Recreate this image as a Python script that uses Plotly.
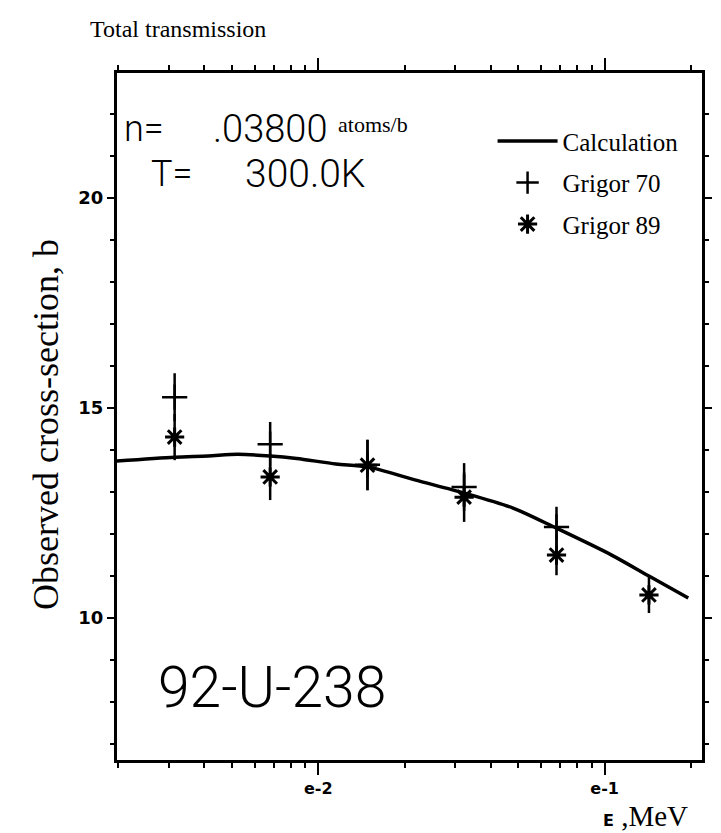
import plotly.graph_objects as go

# Calculated observed cross-section for 92-U-238 total transmission
calc_energy = [0.00198, 0.00315, 0.00412, 0.00522, 0.00679, 0.0084, 0.01153,
               0.01486, 0.02173, 0.03228, 0.04786, 0.06787, 0.1058, 0.1428, 0.1959]
calc_sigma = [13.74, 13.83, 13.86, 13.90, 13.86, 13.80, 13.67,
              13.60, 13.29, 12.98, 12.62, 12.14, 11.50, 11.00, 10.48]

# Measured points (MeV, barns, +/- barns)
g70_energy = [0.00315, 0.00679, 0.01485, 0.0323, 0.0679]
g70_sigma = [15.26, 14.14, 13.65, 13.12, 12.17]
g70_err = [0.57, 0.53, 0.60, 0.57, 0.48]

g89_energy = [0.00315, 0.00679, 0.01485, 0.0323, 0.0679, 0.1428]
g89_sigma = [14.31, 13.36, 13.64, 12.88, 11.50, 10.55]
g89_err = [0.55, 0.55, 0.60, 0.59, 0.48, 0.43]

x_tick_vals = [0.01, 0.1]
x_tick_text = ["e-2", "e-1"]
y_tick_vals = [10, 15, 20]
y_tick_text = ["10", "15", "20"]

SERIF = "Liberation Serif"
PLOTTER = "Roboto"
BOLD_SANS = "DejaVu Sans"

fig = go.Figure()

fig.add_trace(go.Scatter(
    x=calc_energy, y=calc_sigma, mode="lines", name="Calculation",
    line=dict(color="black", width=3.5, shape="spline", smoothing=0.8),
    legendgroup="a",
))
fig.add_trace(go.Scatter(
    x=g70_energy, y=g70_sigma, mode="markers", name="Grigor 70",
    marker=dict(symbol="cross-thin", size=18, color="black",
                line=dict(color="black", width=2.5)),
    error_y=dict(type="data", array=g70_err, color="black", thickness=2.5, width=0),
    legendgroup="b",
))
fig.add_trace(go.Scatter(
    x=g89_energy, y=g89_sigma, mode="markers", name="Grigor 89",
    marker=dict(symbol="asterisk", size=16, color="black",
                line=dict(color="black", width=3)),
    error_y=dict(type="data", array=g89_err, color="black", thickness=2.5, width=0),
    legendgroup="c",
))

minor_x = [m * 10.0 ** k for k in (-3, -2, -1) for m in range(2, 10)]

fig.update_xaxes(
    type="log", range=[-2.703, -0.66],
    tickmode="array", tickvals=x_tick_vals, ticktext=x_tick_text,
    tickfont=dict(family=BOLD_SANS, size=16, color="black", weight="bold"),
    ticks="outside", ticklen=12, tickwidth=2, tickcolor="black",
    minor=dict(tickmode="array", tickvals=minor_x, ticks="outside",
               ticklen=5, tickwidth=2, tickcolor="black"),
    showline=True, linewidth=3, linecolor="black", mirror="ticks",
    showgrid=False, zeroline=False,
)
fig.update_yaxes(
    range=[6.62, 22.98],
    tickmode="array", tickvals=y_tick_vals, ticktext=y_tick_text,
    tickfont=dict(family=BOLD_SANS, size=18, color="black", weight="bold"),
    ticks="outside", ticklen=7, tickwidth=2, tickcolor="black",
    minor=dict(dtick=1, ticks="outside", ticklen=4, tickwidth=2, tickcolor="black"),
    showline=True, linewidth=3, linecolor="black", mirror="ticks",
    showgrid=False, zeroline=False,
)

annotations = [
    dict(text="Total transmission", x=-0.049, y=1.064, xanchor="left", yanchor="middle",
         font=dict(family=SERIF, size=24, color="black")),
    dict(text="Observed cross-section, b", x=-0.121, y=0.488, textangle=-90,
         xanchor="center", yanchor="middle",
         font=dict(family=SERIF, size=36, color="black")),
    dict(text="n=", x=0.008, y=0.918, xanchor="left", yanchor="middle",
         font=dict(family=PLOTTER, size=36, color="black", weight=300)),
    dict(text=".03800", x=0.161, y=0.918, xanchor="left", yanchor="middle",
         font=dict(family=PLOTTER, size=38, color="black", weight=300)),
    dict(text="atoms/b", x=0.375, y=0.925, xanchor="left", yanchor="middle",
         font=dict(family=SERIF, size=22, color="black")),
    dict(text="T=", x=0.055, y=0.853, xanchor="left", yanchor="middle",
         font=dict(family=PLOTTER, size=36, color="black", weight=300)),
    dict(text="300.0K", x=0.215, y=0.853, xanchor="left", yanchor="middle",
         font=dict(family=PLOTTER, size=39, color="black", weight=300)),
    dict(text="92-U-238", x=0.067, y=0.105, xanchor="left", yanchor="middle",
         font=dict(family=PLOTTER, size=57, color="black", weight=300)),
    dict(text="<span style='font-family:DejaVu Sans;font-weight:bold;font-size:16px'>E</span> ,MeV",
         x=0.828, y=-0.082, xanchor="left", yanchor="middle",
         font=dict(family=SERIF, size=29, color="black")),
]
for a in annotations:
    a.update(xref="paper", yref="paper", showarrow=False)

fig.update_layout(
    width=721, height=833,
    margin=dict(l=117, r=9, t=73, b=73),
    paper_bgcolor="white", plot_bgcolor="white",
    showlegend=True,
    legend=dict(x=0.642, y=0.934, xanchor="left", yanchor="top",
                font=dict(family=SERIF, size=25, color="black"),
                bgcolor="rgba(0,0,0,0)", tracegroupgap=6, itemwidth=60),
    annotations=annotations,
)

fig.write_html("out.html", config={"responsive": False})
